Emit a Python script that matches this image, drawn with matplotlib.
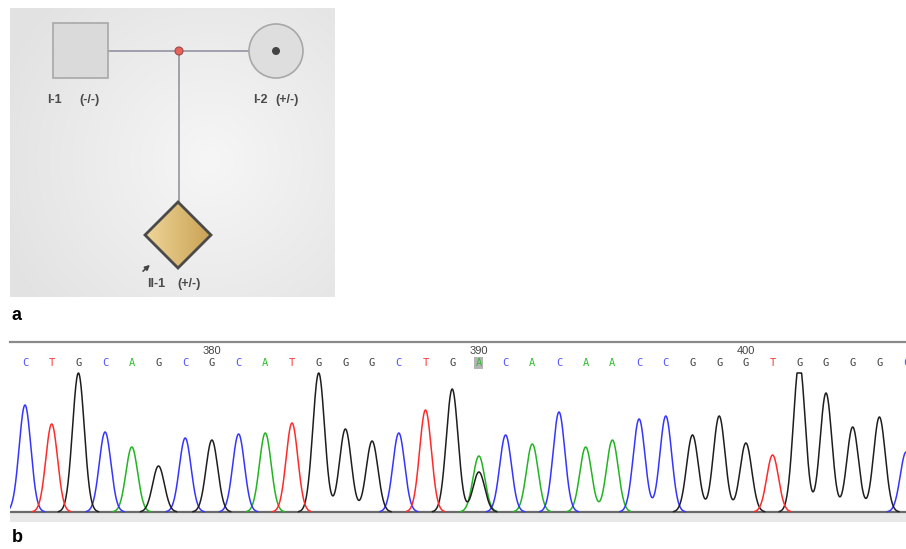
import numpy as np
import matplotlib.pyplot as plt
from matplotlib.patches import Rectangle, Circle, Polygon, FancyArrowPatch
from matplotlib.colors import LinearSegmentedColormap

W, H = 906, 549

# pedigree (panel a)
ped_ids = ["I-1", "I-2", "II-1"]
ped_geno = ["(-/-)", "(+/-)", "(+/-)"]

# sequencing trace (panel b)
bases = list("CTGCAGCGCATGGGCTGACACAACCGGGTGGGGC")
first_pos = 373
peak_h = [107, 88, 139, 80, 65, 46, 74, 72, 78, 79, 89, 139, 83, 71, 79, 102, 123,
          56, 77, 68, 100, 65, 72, 93, 96, 77, 96, 69, 57, 150, 119, 85, 95, 60]
# second (G) peak under the heterozygous call at 390
sec_idx, sec_base, sec_h = 17, "G", 40
het_pos = 390

trace_col = {"A": "#22b422", "C": "#3535ff", "G": "#1e1e1e", "T": "#ff2a2a"}
text_col = {"A": "#33bb33", "C": "#5555ff", "G": "#444444", "T": "#ff3333"}


def px_rect(x0, y0, x1, y1):
    return [x0 / W, 1 - y1 / H, (x1 - x0) / W, (y1 - y0) / H]


fig = plt.figure(figsize=(W / 100, H / 100), dpi=100)
plt.rcParams['font.family'] = ['Liberation Sans', 'DejaVu Sans']

# ---- panel a ----
ax = fig.add_axes(px_rect(10, 8, 335, 297))
ax.set_xlim(10, 335)
ax.set_ylim(297, 8)
ax.axis('off')

yy, xx = np.mgrid[8:297, 10:335]
r = np.sqrt(((xx - 210) / 230.0) ** 2 + ((yy - 160) / 230.0) ** 2)
bg = LinearSegmentedColormap.from_list('bg', ['#e2e2e2', '#f6f6f6'], N=512)
ax.imshow(1 - np.clip(r, 0, 1), cmap=bg, vmin=0, vmax=1, interpolation='bilinear',
          extent=(10, 335, 297, 8), aspect='auto', zorder=0)

line_c = '#8c8c9c'
ax.plot([108, 249], [51, 51], color=line_c, lw=1.1, zorder=2)
ax.plot([179, 179], [51, 202], color=line_c, lw=1.1, zorder=2)

ax.add_patch(Rectangle((53, 23), 55, 55, fc='#dadada', ec='#a8a8a8', lw=1.2, zorder=3))
ax.add_patch(Circle((276, 51), 27, fc='#dedede', ec='#a8a8a8', lw=1.2, zorder=3))
ax.add_patch(Circle((276, 51), 4, fc='#444444', ec='none', zorder=4))
ax.add_patch(Circle((179, 51), 4, fc='#e8625a', ec='#9a4a4a', lw=0.8, zorder=5))

diamond = Polygon([(178, 202), (211, 235), (178, 268), (145, 235)], closed=True,
                  fc='none', ec='#4a4a4a', lw=2, zorder=4)
ax.add_patch(diamond)
gold = LinearSegmentedColormap.from_list('gold', ['#efd698', '#c9a254'])
grad = ax.imshow(np.linspace(0, 1, 100)[None, :], cmap=gold,
                 extent=(145, 211, 268, 202), aspect='auto', zorder=3)
grad.set_clip_path(diamond)

lab_kw = dict(fontsize=9, color='#4a4a4a', fontweight='bold', va='center', ha='left')
ax.text(47, 100, ped_ids[0], **lab_kw)
ax.text(79, 100, ped_geno[0], **lab_kw)
ax.text(253, 100, ped_ids[1], **lab_kw)
ax.text(275, 100, ped_geno[1], **lab_kw)
ax.text(147, 284, ped_ids[2], **lab_kw)
ax.text(177, 284, ped_geno[2], **lab_kw)
ax.add_patch(FancyArrowPatch((141, 273), (152, 263), arrowstyle='-|>',
                             mutation_scale=7, color='#444444', lw=1.2, zorder=5))

# ---- panel b ----
bx = fig.add_axes(px_rect(10, 342, 906, 522))
x_lo = (10 - 25) / 26.7
x_hi = (906 - 25) / 26.7
bx.set_xlim(x_lo, x_hi)
bx.set_ylim(-10, 170)
for s in ['left', 'right', 'bottom']:
    bx.spines[s].set_visible(False)
bx.spines['top'].set_color('#8a8a8a')
bx.spines['top'].set_linewidth(1.6)
bx.set_xticks([])
bx.set_yticks([])

bx.axhspan(-10, 0, color='#e8e8e8', zorder=0)
bx.axhline(0, color='#6a6a6a', lw=1.6, zorder=1)

xs = np.linspace(x_lo - 0.5, x_hi + 0.5, 4000)
sig = 0.22
idx = np.arange(len(bases))
for b in "ACGT":
    y = np.zeros_like(xs)
    for i in idx[[c == b for c in bases]]:
        y += peak_h[i] * np.exp(-(xs - i) ** 2 / (2 * sig ** 2))
    if b == sec_base:
        y += sec_h * np.exp(-(xs - sec_idx) ** 2 / (2 * sig ** 2))
    y = np.minimum(y, 139)
    y[y < 0.4] = np.nan
    bx.plot(xs, y, color=trace_col[b], lw=1.1, zorder=2)

for i, b in enumerate(bases):
    pos = first_pos + i
    if pos == het_pos:
        bx.add_patch(Rectangle((i - 0.17, 143), 0.34, 12, fc='#b4b4b4', ec='none', zorder=2))
    bx.text(i, 149, b, color=text_col[b], fontsize=7.5, family='DejaVu Sans Mono',
            ha='center', va='center', zorder=3, clip_on=True)
    if pos % 10 == 0:
        bx.text(i, 161, str(pos), color='#444444', fontsize=8,
                ha='center', va='center', zorder=3)

# panel letters
fig.text(12 / W, 1 - 316 / H, 'a', fontsize=13, fontweight='bold', va='center', ha='left')
fig.text(12 / W, 1 - 538 / H, 'b', fontsize=13, fontweight='bold', va='center', ha='left')

fig.savefig('out.png', dpi=100)
